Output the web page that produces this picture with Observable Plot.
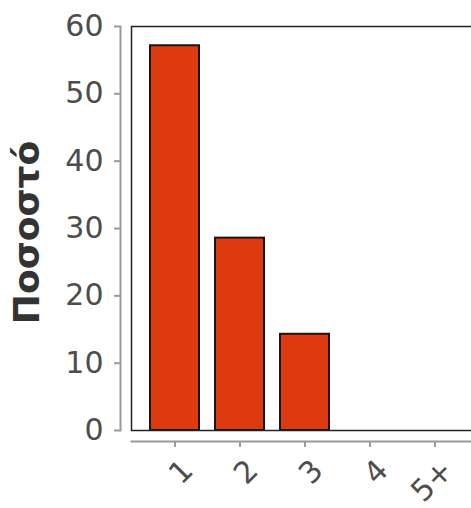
<!DOCTYPE html>
<html>
<head>
<meta charset="utf-8">
<script src="https://cdn.jsdelivr.net/npm/d3@7"></script>
<script src="https://cdn.jsdelivr.net/npm/@observablehq/plot@0.6"></script>
<style>
  html, body { margin: 0; padding: 0; background: #fff; overflow: hidden; }
  #chart { width: 471px; height: 508px; overflow: hidden; }
  #chart svg { max-width: none !important; height: 508px !important; }
</style>
</head>
<body>
<div id="chart"></div>
<script>
const categories = ["1", "2", "3", "4", "5+"];
const percents = [57.14, 28.57, 14.29, 0, 0];
const yTicks = [0, 10, 20, 30, 40, 50, 60];
const yTitle = "Ποσοστό";

const data = categories.map((c, i) => ({category: c, value: percents[i]}));

const axisColor = "#9a9a9a";
const textColor = "#4d4d4d";

const chart = Plot.plot({
  width: 480,
  height: 508,
  marginLeft: 131,
  marginRight: 2,
  marginTop: 26,
  marginBottom: 78,
  style: {fontFamily: "DejaVu Sans", background: "#fff", overflow: "visible"},
  x: {domain: categories, paddingInner: 0.25, paddingOuter: 0.274, label: null},
  y: {domain: [0, 60], label: null},
  marks: [
    Plot.barY(data, {x: "category", y: "value", fill: "#dd3a10", stroke: "#161616", strokeWidth: 2}),
    Plot.frame({stroke: "#222", strokeWidth: 1.5}),
    Plot.frame({anchor: "left", dx: -11, stroke: axisColor, strokeWidth: 2}),
    Plot.frame({anchor: "bottom", dy: 11, stroke: axisColor, strokeWidth: 2}),
    Plot.axisY({ticks: yTicks, dx: -11, tickSize: 6, tickPadding: 11, fontSize: 30, color: textColor, stroke: axisColor, strokeWidth: 2, label: null}),
    Plot.axisX({dy: 11, tickSize: 6, text: null, stroke: axisColor, strokeWidth: 2, label: null}),
    Plot.axisX({dy: 27, dx: 13, tickSize: 0, tickRotate: -45, fontSize: 30, color: textColor, label: null, tickPadding: 8}),
    Plot.text([yTitle], {frameAnchor: "left", dx: -104, dy: 4, rotate: -90, fontSize: 36, fontWeight: "bold", fill: "#333", textAnchor: "middle", lineAnchor: "middle"})
  ]
});
document.getElementById("chart").appendChild(chart);
</script>
</body>
</html>
